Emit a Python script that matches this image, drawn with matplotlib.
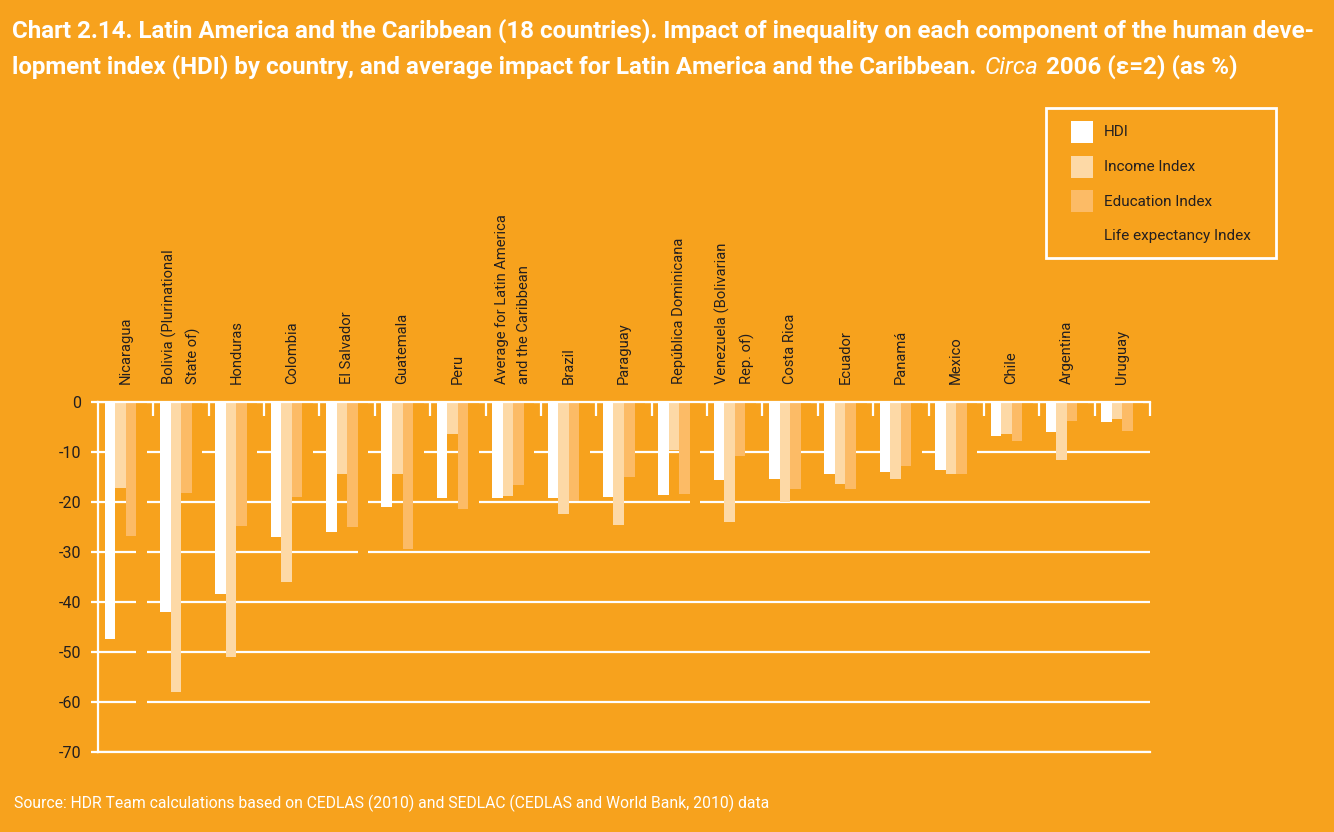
import matplotlib
matplotlib.use('Agg')
import matplotlib.pyplot as plt
import numpy as np
from matplotlib.patches import Rectangle

# ---------------- data ----------------
countries = ["Nicaragua", "Bolivia (Plurinational\nState of)", "Honduras", "Colombia",
             "El Salvador", "Guatemala", "Peru",
             "Average for Latin America\nand the Caribbean", "Brazil", "Paraguay",
             "República Dominicana", "Venezuela (Bolivarian\nRep. of)", "Costa Rica",
             "Ecuador", "Panamá", "Mexico", "Chile", "Argentina", "Uruguay"]
hdi = [-47.4, -42.0, -38.4, -27.0, -26.0, -21.0, -19.2, -19.2, -19.2, -19.0,
       -18.6, -15.6, -15.4, -14.4, -14.0, -13.6, -6.8, -6.0, -4.0]
income = [-17.2, -58.0, -51.0, -36.0, -14.4, -14.4, -6.4, -18.8, -22.4, -24.6,
          -9.6, -24.0, -20.0, -16.4, -15.4, -14.4, -6.4, -11.6, -3.4]
education = [-26.8, -18.2, -24.8, -19.0, -25.0, -29.4, -21.4, -16.6, -19.8, -15.0,
             -18.4, -10.8, -17.4, -17.4, -12.8, -14.4, -7.8, -3.8, -5.8]
life = [-65.0, -15.0, -12.0, -15.8, -35.0, -17.2, -25.0, -12.0, -12.6, -4.0,
        -25.0, -7.4, -5.0, -5.0, -15.0, -15.0, -3.4, -3.0, -3.0]
legend_labels = ["HDI", "Income Index", "Education Index", "Life expectancy Index"]
y_ticks = [0, -10, -20, -30, -40, -50, -60, -70]

title_line1 = ("Chart 2.14. Latin America and the Caribbean (18 countries). Impact of inequality "
               "on each component of the human deve-")
title_line2a = ("lopment index (HDI) by country, and average impact for Latin America "
                "and the Caribbean.")
title_line2b = "Circa"
title_line2c = "2006 (\u03b5=2) (as %)"
source = "Source: HDR Team calculations based on CEDLAS (2010) and SEDLAC (CEDLAS and World Bank, 2010) data"

# ---------------- style ----------------
BG = '#F7A21D'
C_HDI = '#FFFFFF'
C_INC = '#FDD9A6'
C_EDU = '#FCBB66'
TXT = '#231F20'

plt.rcParams['font.family'] = ['Roboto', 'DejaVu Sans']
plt.rcParams['axes.unicode_minus'] = False

W, H = 1334, 832
fig = plt.figure(figsize=(W / 100, H / 100), dpi=100, facecolor=BG)
ax = fig.add_axes([98 / W, 1 - 752 / H, 1052 / W, 350 / H])
ax.set_facecolor(BG)

x = np.arange(len(countries))
w = 0.19
colors = [C_HDI, C_INC, C_EDU, BG]
series = [hdi, income, education, life]
for k, (vals, col) in enumerate(zip(series, colors)):
    ax.bar(x + (k - 1.5) * w, vals, width=w, color=col, linewidth=0, zorder=3,
           label=legend_labels[k])

ax.set_xlim(-0.5, len(countries) - 0.5)
ax.set_ylim(-70, 0)
ax.set_yticks(y_ticks)
ax.set_yticklabels([str(v) for v in y_ticks])
ax.grid(axis='y', color='white', linewidth=1.6, zorder=1)
ax.grid(axis='x', visible=False)
ax.set_axisbelow(True)
for s in ['left', 'top', 'bottom']:
    ax.spines[s].set_color('white')
    ax.spines[s].set_linewidth(1.6)
    ax.spines[s].set_zorder(4)
ax.spines['right'].set_visible(False)
ax.tick_params(axis='y', length=5, width=1.6, color='white', labelcolor=TXT,
               labelsize=11.5, pad=7)

ax.xaxis.tick_top()
ax.set_xticks(np.arange(0.5, len(countries), 1))
ax.set_xticklabels([''] * len(countries))
ax.set_xticks(x, minor=True)
ax.set_xticklabels(countries, minor=True, rotation=90)
ax.tick_params(axis='x', which='major', direction='in', length=10, width=1.6,
               color='white', top=True, bottom=False)
ax.tick_params(axis='x', which='minor', length=0, pad=13, labelsize=10.6,
               labelcolor=TXT, top=True, bottom=False)
for lbl in ax.get_xticklabels(minor=True):
    lbl.set_multialignment('left')
    lbl.set_linespacing(1.75)

# legend (drawn as figure patches + text)
fig.patches.append(Rectangle((1046 / W, 1 - 258 / H), 230 / W, 150 / H,
                             transform=fig.transFigure, fill=False,
                             edgecolor='white', linewidth=2))
for k, (lab, col) in enumerate(zip(legend_labels, colors)):
    top = 121 + 34.5 * k
    fig.patches.append(Rectangle((1071 / W, 1 - (top + 22) / H), 22 / W, 22 / H,
                                 transform=fig.transFigure, facecolor=col,
                                 edgecolor='none'))
    fig.text(1104 / W, 1 - (top + 11.5) / H, lab, fontsize=11, color=TXT,
             va='center', ha='left')

# title
renderer = fig.canvas.get_renderer()
t1 = fig.text(12 / W, 1 - 38 / H, title_line1, fontsize=15, weight='bold',
              color='white', va='baseline', ha='left')
bb = t1.get_window_extent(renderer)
tfs = 15 * 1313 / bb.width
t1.set_fontsize(tfs)

xpos = 12
ybase = 1 - 74 / H
ta = fig.text(xpos / W, ybase, title_line2a, fontsize=tfs, weight='bold',
              color='white', va='baseline', ha='left')
xpos = ta.get_window_extent(renderer).x1 + tfs * 0.45
tb = fig.text(xpos / W, ybase, title_line2b, fontsize=tfs, style='italic',
              weight='normal', color='white', va='baseline', ha='left')
xpos = tb.get_window_extent(renderer).x1 + tfs * 0.45
tc = fig.text(xpos / W, ybase, title_line2c, fontsize=tfs, weight='bold',
              color='white', va='baseline', ha='left')

fig.text(14 / W, 1 - 808 / H, source, fontsize=11.3, color='white',
         va='baseline', ha='left')

fig.savefig('out.png', dpi=100, facecolor=BG)
